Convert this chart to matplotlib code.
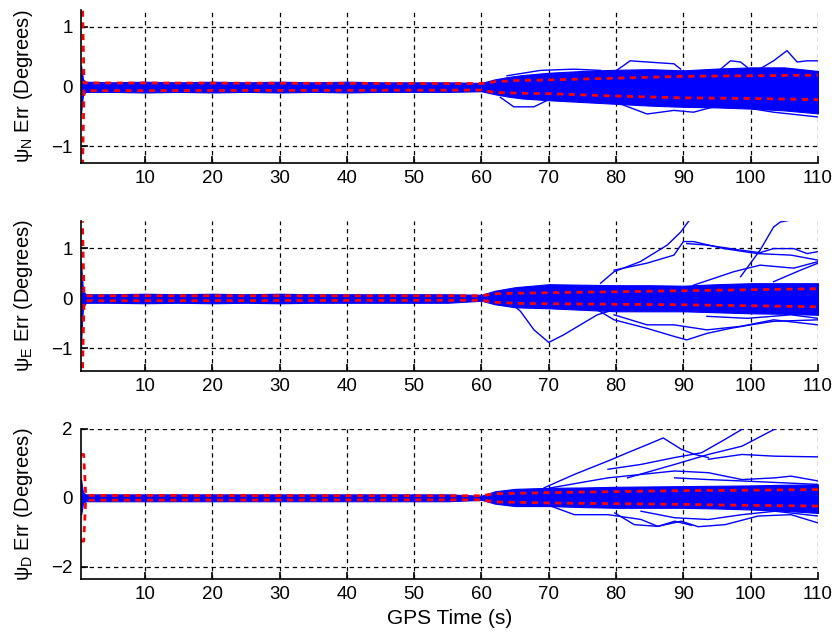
import matplotlib
matplotlib.use("Agg")
import matplotlib.pyplot as plt

plt.rcParams['font.family'] = ['Liberation Sans', 'DejaVu Sans']
plt.rcParams['mathtext.default'] = 'regular'

# ---------------- data ----------------
XTICKS = [10, 20, 30, 40, 50, 60, 70, 80, 90, 100, 110]

# --- psi_N ---
N_band_t = [0.5, 0.6, 0.8, 1.2, 5, 10, 15, 20, 25, 30, 35, 40, 45, 50, 55, 60, 62, 64, 66, 70, 75, 80, 85, 90, 95, 100, 105, 110]
N_band_up = [0.35, 0.28, 0.12, 0.08, 0.07, 0.08, 0.07, 0.08, 0.07, 0.08, 0.07, 0.08, 0.07, 0.07, 0.07, 0.06, 0.12, 0.16, 0.19, 0.23, 0.26, 0.28, 0.29, 0.27, 0.30, 0.32, 0.32, 0.26]
N_band_lo = [-0.45, -0.33, -0.14, -0.09, -0.09, -0.1, -0.09, -0.1, -0.09, -0.1, -0.09, -0.1, -0.09, -0.09, -0.09, -0.08, -0.13, -0.17, -0.2, -0.23, -0.26, -0.29, -0.32, -0.34, -0.35, -0.37, -0.40, -0.45]
N_sig_t = [0.5, 0.7, 0.95, 60, 62, 65, 70, 80, 90, 100, 110]
N_sig_up = [1.5, 1.5, 0.06, 0.05, 0.08, 0.10, 0.11, 0.14, 0.17, 0.18, 0.19]
N_sig_lo = [-1.5, -1.5, -0.07, -0.06, -0.10, -0.11, -0.12, -0.16, -0.19, -0.20, -0.22]
N_out_t = [
    [79.7, 82.1, 84.6, 88.6, 89.6],
    [95.0, 97.0, 98.5, 99.5],
    [101.0, 103.4, 105.4, 106.9, 108.4, 110.0],
    [63.8, 68.8, 73.7, 77.7],
    [62.8, 64.8, 67.8, 69.8],
    [80.6, 84.6, 88.6, 91.5, 94.5],
    [98.5, 103.4, 110.0],
]
N_out_v = [
    [0.24, 0.43, 0.41, 0.38, 0.29],
    [0.24, 0.43, 0.41, 0.32],
    [0.27, 0.43, 0.60, 0.41, 0.43, 0.43],
    [0.18, 0.27, 0.29, 0.27],
    [-0.18, -0.34, -0.34, -0.23],
    [-0.29, -0.46, -0.40, -0.43, -0.34],
    [-0.34, -0.43, -0.51],
]

# --- psi_E ---
E_band_t = [0.5, 0.6, 0.8, 1.2, 5, 10, 15, 20, 25, 30, 35, 40, 45, 50, 55, 60, 62, 65, 70, 75, 80, 85, 90, 95, 100, 105, 110]
E_band_up = [0.72, 0.5, 0.15, 0.08, 0.08, 0.09, 0.08, 0.09, 0.08, 0.09, 0.08, 0.08, 0.08, 0.08, 0.08, 0.07, 0.15, 0.22, 0.28, 0.27, 0.26, 0.26, 0.25, 0.28, 0.30, 0.30, 0.30]
E_band_lo = [-0.97, -0.6, -0.18, -0.09, -0.09, -0.1, -0.09, -0.1, -0.09, -0.1, -0.09, -0.09, -0.09, -0.09, -0.09, -0.05, -0.12, -0.18, -0.20, -0.23, -0.26, -0.26, -0.26, -0.28, -0.30, -0.31, -0.33]
E_sig_t = [0.5, 0.7, 0.95, 60, 62, 65, 70, 80, 90, 100, 110]
E_sig_up = [1.6, 1.6, 0.05, 0.05, 0.09, 0.10, 0.11, 0.13, 0.15, 0.17, 0.19]
E_sig_lo = [-1.6, -1.6, -0.05, -0.04, -0.08, -0.10, -0.11, -0.12, -0.13, -0.15, -0.17]
E_out_t = [
    [77.7, 79.7, 83.6, 87.6, 89.6, 90.8, 91.5],
    [79.7, 84.6, 88.6, 90.0, 91.5, 96.0, 101.0, 106.0, 110.0],
    [90.5, 93.5, 98.5, 101.4, 103.4, 106.4, 108.4, 110.0],
    [98.5, 101.4, 103.4, 104.4, 106.0, 107.0],
    [91.5, 97.5, 101.4, 106.4, 110.0],
    [103.4, 107.4, 110.0],
    [63.8, 65.8, 67.8, 70.0, 72.2, 74.7, 77.2, 79.7],
    [77.2, 79.7, 84.6, 88.6, 90.5, 93.5, 97.0, 100.0, 103.4, 110.0],
    [79.7, 84.6, 88.6, 93.5, 98.5, 103.4, 110.0],
    [93.5, 99.5, 106.0, 110.0],
]
E_out_v = [
    [0.30, 0.53, 0.73, 1.06, 1.32, 1.54, 1.60],
    [0.56, 0.70, 0.86, 1.13, 1.13, 0.99, 0.89, 0.86, 0.76],
    [1.09, 1.06, 0.96, 0.91, 0.99, 0.99, 0.89, 0.93],
    [0.43, 0.96, 1.42, 1.52, 1.56, 1.60],
    [0.26, 0.53, 0.66, 0.60, 0.73],
    [0.33, 0.56, 0.70],
    [-0.03, -0.26, -0.63, -0.88, -0.73, -0.53, -0.33, -0.23],
    [-0.23, -0.43, -0.60, -0.76, -0.83, -0.70, -0.60, -0.53, -0.46, -0.43],
    [-0.33, -0.53, -0.53, -0.63, -0.56, -0.43, -0.53],
    [-0.36, -0.40, -0.33, -0.40],
]

# --- psi_D ---
D_band_t = [0.5, 0.6, 0.8, 1.2, 5, 10, 15, 20, 25, 30, 35, 40, 45, 50, 55, 60, 62, 65, 70, 75, 80, 85, 90, 95, 100, 105, 110]
D_band_up = [0.53, 0.4, 0.15, 0.1, 0.1, 0.1, 0.1, 0.1, 0.1, 0.1, 0.1, 0.1, 0.1, 0.1, 0.1, 0.06, 0.19, 0.26, 0.29, 0.30, 0.32, 0.33, 0.34, 0.35, 0.36, 0.38, 0.39]
D_band_lo = [-0.49, -0.4, -0.15, -0.1, -0.1, -0.1, -0.1, -0.1, -0.1, -0.1, -0.1, -0.1, -0.1, -0.1, -0.1, -0.06, -0.17, -0.24, -0.24, -0.27, -0.29, -0.29, -0.29, -0.31, -0.34, -0.38, -0.44]
D_sig_t = [0.5, 0.9, 1.2, 60, 62, 65, 70, 80, 90, 100, 110]
D_sig_up = [1.26, 1.26, 0.07, 0.06, 0.12, 0.13, 0.15, 0.18, 0.21, 0.22, 0.24]
D_sig_lo = [-1.26, -1.26, -0.07, -0.06, -0.12, -0.13, -0.15, -0.17, -0.19, -0.22, -0.24]
D_out_t = [
    [69.3, 73.8, 78.8, 81.7, 84.7, 87.0, 89.7, 91.7, 93.7],
    [78.8, 83.7, 88.7, 92.7, 96.2, 98.7, 99.2],
    [81.7, 88.7, 93.7, 98.7, 103.6, 104.0],
    [93.7, 98.7, 103.6, 110.0],
    [70.3, 78.8, 88.7, 93.7, 98.7, 103.6, 106.0, 110.0],
    [88.7, 93.7, 98.7, 110.0],
    [70.3, 73.8, 78.8, 83.7, 86.2, 88.7, 91.2],
    [79.8, 82.7, 86.2, 89.7, 92.2, 96.2, 101.1, 106.0, 110.0],
    [83.7, 88.7, 93.7, 98.7, 103.6, 110.0],
]
D_out_v = [
    [0.29, 0.68, 1.07, 1.31, 1.55, 1.74, 1.41, 1.26, 1.17],
    [0.83, 0.97, 1.17, 1.31, 1.70, 1.99, 2.05],
    [0.58, 0.97, 1.26, 1.50, 2.00, 2.05],
    [1.12, 1.26, 1.21, 1.19],
    [0.29, 0.58, 0.78, 0.73, 0.53, 0.58, 0.63, 0.49],
    [0.58, 0.53, 0.49, 0.39],
    [-0.24, -0.49, -0.49, -0.63, -0.83, -0.68, -0.80],
    [-0.44, -0.78, -0.83, -0.68, -0.84, -0.78, -0.53, -0.49, -0.73],
    [-0.39, -0.58, -0.63, -0.49, -0.39, -0.53],
]

PANELS = [
    ("ψ$_N$ Err (Degrees)", (-1.28, 1.28), [-1, 0, 1],
     N_band_t, N_band_up, N_band_lo, N_sig_t, N_sig_up, N_sig_lo, N_out_t, N_out_v),
    ("ψ$_E$ Err (Degrees)", (-1.45, 1.54), [-1, 0, 1],
     E_band_t, E_band_up, E_band_lo, E_sig_t, E_sig_up, E_sig_lo, E_out_t, E_out_v),
    ("ψ$_D$ Err (Degrees)", (-2.36, 2.0), [-2, 0, 2],
     D_band_t, D_band_up, D_band_lo, D_sig_t, D_sig_up, D_sig_lo, D_out_t, D_out_v),
]

# ---------------- layout ----------------
W, H = 835, 639
fig = plt.figure(figsize=(W / 100, H / 100), dpi=100)
boxes = [(81, 10, 818, 163), (81, 221, 818, 371), (81, 429, 818, 579)]

for i, (box, panel) in enumerate(zip(boxes, PANELS)):
    (lab, ylim, yt, bt, bu, bl, st, su, sl, ot, ov) = panel
    x0, y0, x1, y1 = box
    ax = fig.add_axes([x0 / W, 1 - y1 / H, (x1 - x0) / W, (y1 - y0) / H])
    ax.fill_between(bt, bl, bu, color='#0000FF', lw=0.8, edgecolor='#0000FF', zorder=2)
    for tt, vv in zip(ot, ov):
        ax.plot(tt, vv, color='#0000FF', lw=1.0, zorder=2)
    ax.plot(st, su, color='#FF0000', lw=2.0, ls=(0, (2.2, 2.0)), zorder=3)
    ax.plot(st, sl, color='#FF0000', lw=2.0, ls=(0, (2.2, 2.0)), zorder=3)
    ax.set_xlim(0.5, 110)
    ax.set_ylim(*ylim)
    ax.set_xticks(XTICKS)
    ax.set_yticks(yt)
    ax.grid(True, color='black', ls=(0, (3.5, 3)), lw=0.9)
    ax.set_axisbelow(True)
    for s in ('top', 'right'):
        ax.spines[s].set_visible(False)
    for s in ('left', 'bottom'):
        ax.spines[s].set_linewidth(1.2)
        ax.spines[s].set_zorder(4)
    ax.tick_params(direction='in', length=5, width=1.2, labelsize=13.5, pad=6,
                   colors='black')
    ax.tick_params(axis='x', pad=5)
    ax.set_ylabel(lab, fontsize=14.5)
    ax.yaxis.set_label_coords(-0.062, 0.5)
    if i == 2:
        ax.set_xlabel("GPS Time (s)", fontsize=15, labelpad=4)

fig.savefig("out.png", dpi=100)
